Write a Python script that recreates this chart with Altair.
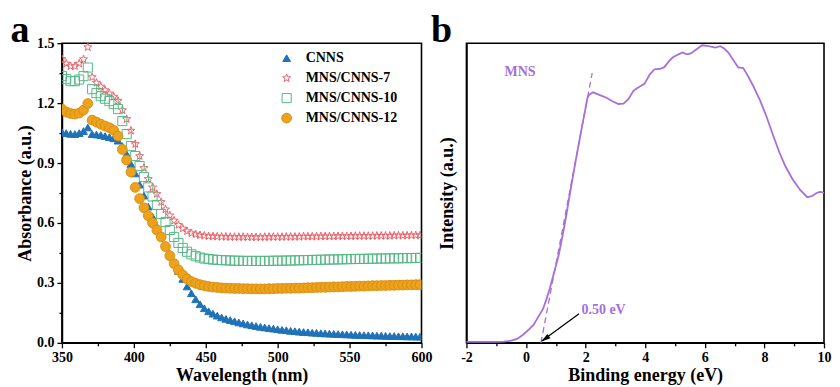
import altair as alt
import pandas as pd

# ---------------- Panel a data ----------------
wavelength = list(range(350, 600, 3))  # 84 sample wavelengths (nm)
series_names = ["CNNS", "MNS/CNNS-7", "MNS/CNNS-10", "MNS/CNNS-12"]

cnns = [1.055, 1.050, 1.046, 1.045, 1.050, 1.060, 1.078, 1.045, 1.043, 1.040,
        1.035, 1.030, 1.024, 1.012, 0.985, 0.945, 0.895, 0.848, 0.792, 0.737,
        0.682, 0.632, 0.583, 0.537, 0.490, 0.445, 0.400, 0.360, 0.320, 0.282,
        0.248, 0.218, 0.193, 0.173, 0.158, 0.146, 0.136, 0.127, 0.120, 0.114,
        0.108, 0.102, 0.097, 0.092, 0.088, 0.084, 0.080, 0.077, 0.074, 0.071,
        0.068, 0.065, 0.063, 0.060, 0.058, 0.056, 0.054, 0.053, 0.051, 0.050,
        0.048, 0.047, 0.046, 0.045, 0.044, 0.043, 0.042, 0.041, 0.040, 0.039,
        0.038, 0.038, 0.037, 0.036, 0.036, 0.035, 0.034, 0.034, 0.033, 0.033,
        0.032, 0.032, 0.031, 0.031]

mns7 = [1.420, 1.398, 1.385, 1.385, 1.398, 1.420, 1.480, 1.330, 1.302, 1.283,
        1.265, 1.248, 1.232, 1.212, 1.165, 1.120, 1.062, 0.995, 0.935, 0.875,
        0.820, 0.778, 0.745, 0.705, 0.668, 0.638, 0.612, 0.590, 0.572, 0.559,
        0.549, 0.543, 0.539, 0.536, 0.534, 0.533, 0.532, 0.531, 0.531, 0.530,
        0.530, 0.530, 0.530, 0.529, 0.529, 0.529, 0.529, 0.530, 0.530, 0.530,
        0.530, 0.530, 0.531, 0.531, 0.531, 0.531, 0.532, 0.532, 0.532, 0.532,
        0.533, 0.533, 0.533, 0.533, 0.534, 0.534, 0.534, 0.534, 0.535, 0.535,
        0.535, 0.535, 0.535, 0.536, 0.536, 0.536, 0.536, 0.537, 0.537, 0.537,
        0.537, 0.538, 0.538, 0.538]

mns10 = [1.335, 1.320, 1.310, 1.310, 1.318, 1.335, 1.378, 1.270, 1.250, 1.235,
         1.222, 1.210, 1.195, 1.170, 1.110, 1.045, 0.985, 0.935, 0.885, 0.830,
         0.778, 0.733, 0.690, 0.645, 0.605, 0.565, 0.530, 0.500, 0.475, 0.456,
         0.443, 0.434, 0.427, 0.422, 0.419, 0.417, 0.415, 0.414, 0.413, 0.412,
         0.411, 0.411, 0.410, 0.410, 0.410, 0.410, 0.410, 0.410, 0.410, 0.411,
         0.411, 0.411, 0.412, 0.412, 0.413, 0.413, 0.414, 0.414, 0.415, 0.415,
         0.416, 0.416, 0.417, 0.417, 0.418, 0.418, 0.419, 0.419, 0.420, 0.420,
         0.420, 0.421, 0.421, 0.422, 0.422, 0.422, 0.423, 0.423, 0.423, 0.424,
         0.424, 0.424, 0.425, 0.425]

mns12 = [1.170, 1.155, 1.148, 1.145, 1.150, 1.165, 1.198, 1.115, 1.105, 1.095,
         1.085, 1.077, 1.064, 1.035, 0.968, 0.915, 0.855, 0.778, 0.722, 0.676,
         0.636, 0.600, 0.565, 0.530, 0.482, 0.436, 0.396, 0.365, 0.340, 0.320,
         0.307, 0.298, 0.291, 0.286, 0.282, 0.279, 0.277, 0.275, 0.274, 0.273,
         0.272, 0.272, 0.271, 0.271, 0.270, 0.270, 0.270, 0.270, 0.271, 0.271,
         0.272, 0.272, 0.273, 0.273, 0.274, 0.274, 0.275, 0.276, 0.276, 0.277,
         0.278, 0.278, 0.279, 0.280, 0.280, 0.281, 0.282, 0.282, 0.283, 0.284,
         0.284, 0.285, 0.286, 0.286, 0.287, 0.287, 0.288, 0.288, 0.289, 0.289,
         0.290, 0.290, 0.291, 0.291]

x_ticks_a = [350, 375, 400, 425, 450, 475, 500, 525, 550, 575, 600]
y_ticks_a = [0, 0.15, 0.3, 0.45, 0.6, 0.75, 0.9, 1.05, 1.2, 1.35, 1.5]

# ---------------- Panel b data ----------------
energy = [-2.0, -1.5, -1.0, -0.75, -0.5, -0.3, -0.1, 0.1, 0.25, 0.4,
          0.57, 0.7, 0.8, 0.9, 1.0, 1.1, 1.23, 1.35, 1.45, 1.56,
          1.67, 1.78, 1.89, 2.0, 2.06, 2.12, 2.25, 2.5, 2.7, 2.9,
          3.1, 3.27, 3.43, 3.6, 3.71, 3.85, 3.98, 4.15, 4.31, 4.5,
          4.64, 4.8, 4.92, 5.1, 5.25, 5.4, 5.53, 5.7, 5.91, 6.13,
          6.35, 6.52, 6.65, 6.79, 6.95, 7.12, 7.29, 7.45, 7.62, 7.85,
          8.06, 8.3, 8.5, 8.7, 8.94, 9.2, 9.44, 9.6, 9.75, 9.88, 10.0]
intensity = [0.003, 0.003, 0.003, 0.004, 0.007, 0.013, 0.027, 0.045, 0.060, 0.085,
             0.113, 0.150, 0.182, 0.220, 0.256, 0.295, 0.360, 0.425, 0.485, 0.548,
             0.610, 0.668, 0.728, 0.785, 0.818, 0.828, 0.836, 0.826, 0.818, 0.806,
             0.797, 0.798, 0.812, 0.840, 0.849, 0.857, 0.865, 0.895, 0.913, 0.914,
             0.920, 0.940, 0.952, 0.962, 0.969, 0.963, 0.966, 0.978, 0.993, 0.990,
             0.985, 0.990, 0.982, 0.969, 0.945, 0.919, 0.917, 0.890, 0.858, 0.810,
             0.758, 0.690, 0.636, 0.590, 0.547, 0.510, 0.486, 0.490, 0.500, 0.504, 0.500]
tangent_e = [0.5, 2.22]
tangent_i = [0.0, 0.90]
arrow_e = [1.78, 0.53]
arrow_i = [0.097, 0.006]
x_ticks_b = [-2, -1, 0, 1, 2, 3, 4, 5, 6, 7, 8, 9, 10]

# ---------------- styling ----------------
FONT = "Liberation Serif"
PURPLE = "#a66fdc"
BLUE = "#1f72b8"
RED = "#e9636b"
GREEN = "#55b986"
GOLD = "#eca21c"
STAR = ("M0,-1L0.235,-0.324L0.951,-0.309L0.380,0.124L0.588,0.809L0,0.4"
        "L-0.588,0.809L-0.380,0.124L-0.951,-0.309L-0.235,-0.324Z")
ARROW_HEAD = "M0,0L0.55,2L-0.55,2Z"

WA, WB, H = 360, 358, 300

rows = []
for name, vals in zip(series_names, [cnns, mns7, mns10, mns12]):
    for wl, v in zip(wavelength, vals):
        rows.append({"wavelength": wl, "absorbance": v, "series": name})
df_a = pd.DataFrame(rows)

legend_a = alt.Legend(title=None, orient="none", legendX=218, legendY=8,
                      labelFont=FONT, labelFontWeight="bold", labelFontSize=14,
                      labelColor="black", rowPadding=6,
                      labelOffset=12, padding=0, symbolStrokeWidth=1)

points = alt.Chart(df_a).mark_point(strokeWidth=1, opacity=1, clip=True).encode(
    x=alt.X("wavelength:Q", scale=alt.Scale(domain=[350, 600], nice=False),
            axis=alt.Axis(title="Wavelength (nm)", values=x_ticks_a,
                          labelExpr="datum.value % 50 == 0 ? '' + datum.value : ''",
                          tickSize={"condition": {"test": "datum.value % 50 == 0", "value": 5}, "value": 3})),
    y=alt.Y("absorbance:Q", scale=alt.Scale(domain=[0, 1.5], nice=False),
            axis=alt.Axis(title="Absorbance (a.u.)", values=y_ticks_a,
                          labelExpr="round(datum.value*100) % 30 == 0 ? format(datum.value, '.1f') : ''",
                          tickSize={"condition": {"test": "round(datum.value*100) % 30 == 0", "value": 5}, "value": 3})),
    shape=alt.Shape("series:N", scale=alt.Scale(domain=series_names,
                    range=["triangle-up", STAR, "square", "circle"]), legend=legend_a),
    stroke=alt.Stroke("series:N", scale=alt.Scale(domain=series_names,
                      range=[BLUE, RED, GREEN, "#d98f0f"]), legend=legend_a),
    fill=alt.Fill("series:N", scale=alt.Scale(domain=series_names,
                  range=[BLUE, "transparent", "transparent", GOLD]), legend=legend_a),
    size=alt.Size("series:N", scale=alt.Scale(domain=series_names,
                  range=[60, 95, 55, 55]), legend=legend_a),
)

label_a = alt.Chart(pd.DataFrame({"t": ["a"]})).mark_text(
    font=FONT, fontWeight="bold", fontSize=38, align="center", baseline="alphabetic", color="black"
).encode(text="t:N", x=alt.value(-42), y=alt.value(-1))

panel_a = alt.layer(points, label_a).properties(width=WA, height=H)

# ---------------- Panel b ----------------
df_b = pd.DataFrame({"energy": energy, "intensity": intensity})
xb = alt.X("energy:Q", scale=alt.Scale(domain=[-2, 10], nice=False),
           axis=alt.Axis(title="Binding energy (eV)", values=x_ticks_b,
                         labelExpr="datum.value % 2 == 0 ? '' + datum.value : ''",
                         tickSize={"condition": {"test": "datum.value % 2 == 0", "value": 5}, "value": 3}))
yb = alt.Y("intensity:Q", scale=alt.Scale(domain=[0, 1], nice=False),
           axis=alt.Axis(title="Intensity (a.u.)", labels=False, ticks=False, titlePadding=10))

curve = alt.Chart(df_b).mark_line(color=PURPLE, strokeWidth=1.8).encode(x=xb, y=yb)

tangent = alt.Chart(pd.DataFrame({"energy": tangent_e, "intensity": tangent_i})).mark_line(
    color=PURPLE, strokeWidth=1.3, strokeDash=[6, 4]).encode(x=xb, y=yb)

arrow_line = alt.Chart(pd.DataFrame({"energy": arrow_e, "intensity": arrow_i})).mark_line(
    color="black", strokeWidth=1.3).encode(x=xb, y=yb)

arrow_head = alt.Chart(pd.DataFrame({"energy": [0.51], "intensity": [0.004]})).mark_point(
    shape=ARROW_HEAD, size=90, filled=True, color="black", opacity=1, angle=234).encode(x=xb, y=yb)

texts_b = alt.Chart(pd.DataFrame({"energy": [-0.72, 1.86], "intensity": [0.903, 0.11],
                                  "label": ["MNS", "0.50 eV"]})).mark_text(
    font=FONT, fontWeight="bold", fontSize=14, color=PURPLE, align="left", baseline="middle"
).encode(x=xb, y=yb, text="label:N")

label_b = alt.Chart(pd.DataFrame({"t": ["b"]})).mark_text(
    font=FONT, fontWeight="bold", fontSize=38, align="center", baseline="alphabetic", color="black"
).encode(text="t:N", x=alt.value(-25), y=alt.value(-1))

panel_b = alt.layer(curve, tangent, arrow_line, arrow_head, texts_b, label_b).properties(width=WB, height=H)

chart = alt.hconcat(panel_a, panel_b, spacing=45, bounds="flush").resolve_scale(
    shape="independent", stroke="independent", fill="independent", size="independent"
).properties(padding={"left": 1, "top": 3, "right": 0, "bottom": 0}).configure_view(
    stroke="black", strokeWidth=1.6
).configure_axis(
    domainColor="black", domainWidth=1.6, tickColor="black", tickWidth=1.3,
    labelFont=FONT, labelFontWeight="bold", labelFontSize=14, labelColor="black",
    titleFont=FONT, titleFontWeight="bold", titleFontSize=18, titleColor="black",
    grid=False, labelFlush=False, labelOverlap=False, labelPadding=3, titlePadding=2
)

chart.save("out.html", embed_options={"renderer": "svg", "actions": False})
